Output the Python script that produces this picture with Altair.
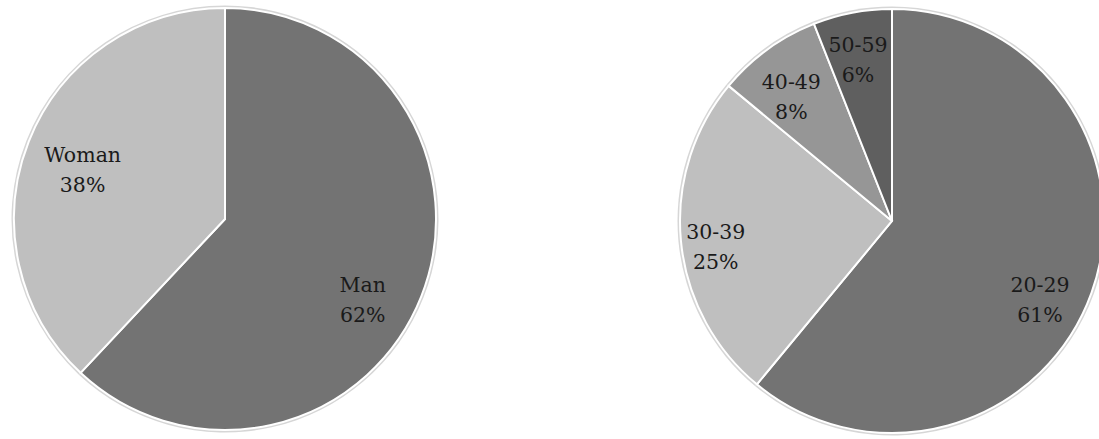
import altair as alt
import pandas as pd

# Gender split
gender_cats = ["Man", "Woman"]
gender_pct = [62, 38]
gender_colors = ["#737373", "#bfbfbf"]

# Age groups
age_cats = ["20-29", "30-39", "40-49", "50-59"]
age_pct = [61, 25, 8, 6]
age_colors = ["#737373", "#bfbfbf", "#969696", "#5f5f5f"]

FONT = "DejaVu Serif"


def pie(cats, pcts, colors, cx, cy, r, label_spots):
    df = pd.DataFrame({
        "cat": cats,
        "pct": pcts,
        "idx": list(range(len(cats))),
        "label": [f"{c}\n{p}%" for c, p in zip(cats, pcts)],
    })
    base = alt.Chart(df).encode(
        theta=alt.Theta("pct:Q", stack=True),
        order=alt.Order("idx:Q", sort="ascending"),
        detail="cat:N",
        x=alt.value(cx),
        y=alt.value(cy),
    )
    rim = base.mark_arc(radius=r + 2.5, color="#d6d6d6", strokeWidth=0)
    slices = base.mark_arc(radius=r, stroke="white", strokeWidth=2).encode(
        color=alt.Color("cat:N", scale=alt.Scale(domain=cats, range=colors), legend=None)
    )
    layers = [rim, slices]
    # one text layer per slice so each label can sit at its own distance
    for i, (rad, dx, dy) in enumerate(label_spots):
        layers.append(
            base.mark_text(
                radius=rad, dx=dx, dy=dy, font=FONT, fontSize=20.5,
                lineBreak="\n", lineHeight=30, color="#1a1a1a",
                align="center", baseline="middle",
            ).encode(
                text=alt.condition(f"datum.idx == {i}", alt.Text("label:N"), alt.value(""))
            )
        )
    return alt.layer(*layers)


left = pie(gender_cats, gender_pct, gender_colors, 225, 219, 211,
           [(160, -11, 8), (151, -2, -7)])
right = pie(age_cats, age_pct, age_colors, 892, 221, 212,
            [(170, -12, 7), (178, 1, -5), (161, -6, -8), (165, -3, -13)])

chart = alt.layer(left, right).resolve_scale(
    theta="independent", color="independent"
).properties(
    width=1099, height=439,
    autosize=alt.AutoSizeParams(type="none"),
    padding=0,
    background="white",
).configure_view(strokeWidth=0)

chart.save("out.html", embed_options={"renderer": "svg", "actions": False})
